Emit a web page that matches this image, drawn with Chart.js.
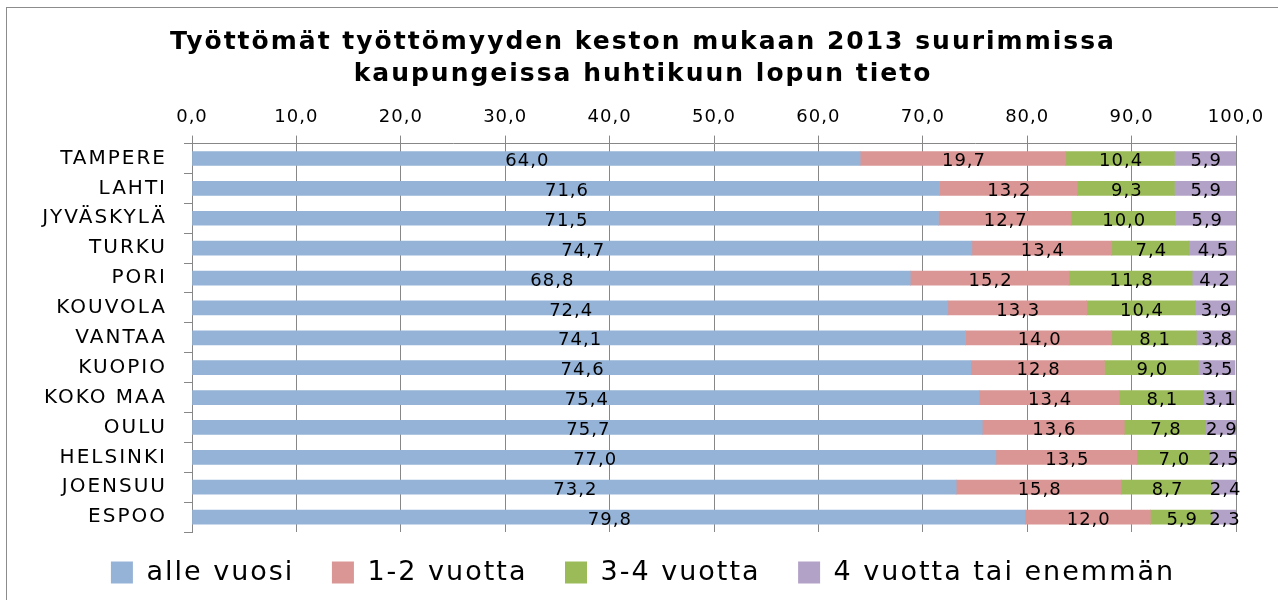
<!DOCTYPE html>
<html>
<head>
<meta charset="utf-8">
<script src="https://cdn.jsdelivr.net/npm/chart.js@4.4.0/dist/chart.umd.min.js"></script>
<style>
    body { margin: 0; background: #fff; }
    #wrap { position: relative; width: 1278px; height: 600px; overflow: hidden; }
    #frame { position: absolute; left: 6px; top: 7px; width: 1290px; height: 620px; border: 1px solid #8c8c8c; box-sizing: border-box; }
    canvas { position: absolute; left: 0; top: 0; }
</style>
</head>
<body>
<div id="wrap">
    <div id="frame"></div>
    <canvas id="chart" width="1278" height="600"></canvas>
</div>
<script>
const cities = ['TAMPERE', 'LAHTI', 'JYVÄSKYLÄ', 'TURKU', 'PORI', 'KOUVOLA', 'VANTAA', 'KUOPIO', 'KOKO MAA', 'OULU', 'HELSINKI', 'JOENSUU', 'ESPOO']
const alleVuosi = [64.0, 71.6, 71.5, 74.7, 68.8, 72.4, 74.1, 74.6, 75.4, 75.7, 77.0, 73.2, 79.8]
const vuotta12 = [19.7, 13.2, 12.7, 13.4, 15.2, 13.3, 14.0, 12.8, 13.4, 13.6, 13.5, 15.8, 12.0]
const vuotta34 = [10.4, 9.3, 10.0, 7.4, 11.8, 10.4, 8.1, 9.0, 8.1, 7.8, 7.0, 8.7, 5.9]
const vuotta4 = [5.9, 5.9, 5.9, 4.5, 4.2, 3.9, 3.8, 3.5, 3.1, 2.9, 2.5, 2.4, 2.3]
const seriesNames = ['alle vuosi', '1-2 vuotta', '3-4 vuotta', '4 vuotta tai enemmän']
const titleLines = ['Työttömät työttömyyden keston mukaan 2013 suurimmissa', 'kaupungeissa huhtikuun lopun tieto']

const colors = ['#95b3d7', '#d99694', '#9bbb59', '#b3a2c7']
const gridColor = '#878787'
const fmt = v => v.toFixed(1).replace('.', ',')

// Excel text is drawn a bit wider, spread the letters
const spacing = {
    id: 'spacing',
    beforeUpdate(chart) { chart.ctx.letterSpacing = '2px' },
    beforeDraw(chart) { chart.ctx.letterSpacing = '2px' },
    afterLayout(chart) {
        const x = chart.scales.x
        if (x && !x._spaced) {
            const orig = x.drawLabels
            x.drawLabels = function (area) {
                this.ctx.letterSpacing = '1px'
                orig.call(this, area)
                this.ctx.letterSpacing = '2px'
            }
            x._spaced = true
        }
    }
}

const valueLabels = {
    id: 'valueLabels',
    afterDatasetsDraw(chart) {
        const ctx = chart.ctx
        ctx.save()
        ctx.letterSpacing = '1px'
        ctx.font = '18px "DejaVu Sans"'
        ctx.fillStyle = '#000'
        ctx.textAlign = 'center'
        ctx.textBaseline = 'middle'
        chart.data.datasets.forEach((ds, i) => {
            chart.getDatasetMeta(i).data.forEach((bar, j) => {
                const {x, y, base} = bar.getProps(['x', 'y', 'base'], true)
                ctx.fillText(fmt(ds.data[j]), (x + base) / 2 + 1, y + 3)
            })
        })
        ctx.restore()
    }
}

const datasets = [alleVuosi, vuotta12, vuotta34, vuotta4].map((data, i) => ({
    label: seriesNames[i],
    data: data,
    backgroundColor: colors[i],
    borderWidth: 0,
    barThickness: 14
}))

new Chart(document.getElementById('chart'), {
    type: 'bar',
    data: { labels: cities, datasets: datasets },
    plugins: [spacing, valueLabels],
    options: {
        indexAxis: 'y',
        responsive: false,
        animation: false,
        layout: { padding: { left: 8, right: 0, top: 0, bottom: 4 } },
        scales: {
            x: {
                position: 'top',
                stacked: true,
                min: 0,
                max: 100,
                ticks: {
                    stepSize: 10,
                    padding: 7,
                    color: '#000',
                    font: { family: 'DejaVu Sans', size: 18 },
                    callback: v => fmt(v)
                },
                grid: { color: gridColor, tickLength: 8, tickColor: gridColor },
                border: { color: gridColor }
            },
            y: {
                stacked: true,
                ticks: {
                    padding: 17,
                    color: '#000',
                    font: { family: 'DejaVu Sans', size: 20 }
                },
                grid: { offset: true, drawOnChartArea: false, tickLength: 8, color: gridColor },
                border: { color: gridColor },
                afterFit: s => { s.width = 184 }
            },
            yRight: {
                type: 'category',
                position: 'right',
                ticks: { display: false },
                grid: { display: false },
                border: { display: false },
                afterFit: s => { s.width = 42 }
            }
        },
        plugins: {
            title: {
                display: true,
                text: titleLines,
                color: '#000',
                font: { family: 'DejaVu Sans', size: 25, weight: 'bold', lineHeight: 1.3 },
                padding: { top: 26, bottom: 9 }
            },
            legend: {
                position: 'bottom',
                labels: {
                    boxWidth: 22,
                    boxHeight: 22,
                    padding: 27,
                    color: '#000',
                    font: { family: 'DejaVu Sans', size: 27 },
                    generateLabels: chart => Chart.defaults.plugins.legend.labels.generateLabels(chart)
                        .map((item, i, all) => Object.assign(item, { text: i < all.length - 1 ? item.text + ' ' : item.text }))
                }
            },
            tooltip: { enabled: false }
        }
    }
})
</script>
</body>
</html>
